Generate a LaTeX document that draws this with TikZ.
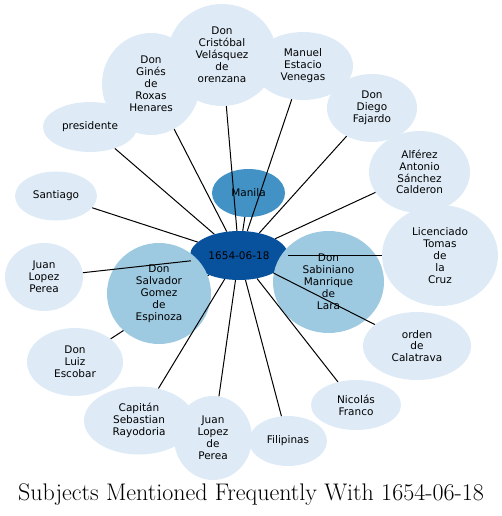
\documentclass[tikz,border=0pt]{standalone}
\usepackage{fontspec}
\newfontfamily\dv{DejaVu Sans}
\usetikzlibrary{shapes.geometric}
\pgfdeclarelayer{bg}
\pgfsetlayers{bg,main}
\definecolor{cdark}{HTML}{08519C}
\definecolor{cmid}{HTML}{4292C6}
\definecolor{clight}{HTML}{9ECAE1}
\definecolor{cpale}{HTML}{DEEBF7}
\begin{document}
\begin{tikzpicture}[x=1pt,y=-1pt,
  bubble/.style={ellipse, inner sep=0pt, align=center, text=black,
    font=\dv\fontsize{10.5}{11.9}\selectfont},
  pale/.style={bubble, fill=cpale},
  mid/.style={bubble, fill=clight},
  edge/.style={draw=black, line width=1pt}]
\useasboundingbox (0,0) rectangle (502,516);
% pale outer nodes
\node[pale, minimum width=94pt, minimum height=50pt] (pres) at (90,127) {presidente};
\node[pale, minimum width=98pt, minimum height=102pt] (gines) at (151,84) {Don\\Ginés\\de\\Roxas\\Henares};
\node[pale, minimum width=109pt, minimum height=102pt] (cris) at (222,55) {Don\\Cristóbal\\Velásquez\\de\\orenzana};
\node[pale, minimum width=100pt, minimum height=68pt] (manuel) at (303,66) {Manuel\\Estacio\\Venegas};
\node[pale, minimum width=90pt, minimum height=68pt] (diego) at (372,108) {Don\\Diego\\Fajardo};
\node[pale, minimum width=101pt, minimum height=82pt] (alf) at (419.5,172) {Alférez\\Antonio\\Sánchez\\Calderon};
\node[pale, minimum width=116pt, minimum height=101pt] (lic) at (440,255.5) {Licenciado\\Tomas\\de\\la\\Cruz};
\node[pale, minimum width=108pt, minimum height=68pt] (orden) at (417,346) {orden\\de\\Calatrava};
\node[pale, minimum width=90pt, minimum height=50pt] (nico) at (356,405) {Nicolás\\Franco};
\node[pale, minimum width=78pt, minimum height=50pt] (fil) at (288,441) {Filipinas};
\node[pale, minimum width=110pt, minimum height=68pt] (cap) at (139,420.5) {Capitán\\Sebastian\\Rayodoria};
\node[pale, minimum width=78pt, minimum height=84pt] (jlp2) at (213,438) {Juan\\Lopez\\de\\Perea};
\node[pale, minimum width=96pt, minimum height=68pt] (luiz) at (75,362) {Don\\Luiz\\Escobar};
\node[pale, minimum width=78pt, minimum height=68pt] (jlp) at (44,277) {Juan\\Lopez\\Perea};
\node[pale, minimum width=82pt, minimum height=49pt] (sant) at (56,196) {Santiago};
% inner nodes
\node[bubble, fill=cmid, minimum width=73pt, minimum height=48pt] (manila) at (248.5,193) {Manila};
\node[bubble, fill=cdark, minimum width=98pt, minimum height=49pt] (c) at (239,255.5) {1654-06-18};
\node[mid, minimum width=104pt, minimum height=101pt] (salv) at (159,293.5) {Don\\Salvador\\Gomez\\de\\Espinoza};
\node[mid, minimum width=111pt, minimum height=102pt] (sabi) at (328.5,282) {Don\\Sabiniano\\Manrique\\de\\Lara};
% edges
\begin{pgfonlayer}{bg}
\draw[edge] (c) -- (luiz);
\end{pgfonlayer}
\foreach \t in {pres,gines,cris,manuel,diego,alf,lic,orden,nico,fil,jlp2,cap,jlp,sant,manila}
  \draw[edge] (c) -- (\t);
% title
\node[anchor=base, font=\fontsize{24}{28}\selectfont] (title) at (251,500) {Subjects Mentioned Frequently With 1654-06-18};
\end{tikzpicture}
\end{document}
